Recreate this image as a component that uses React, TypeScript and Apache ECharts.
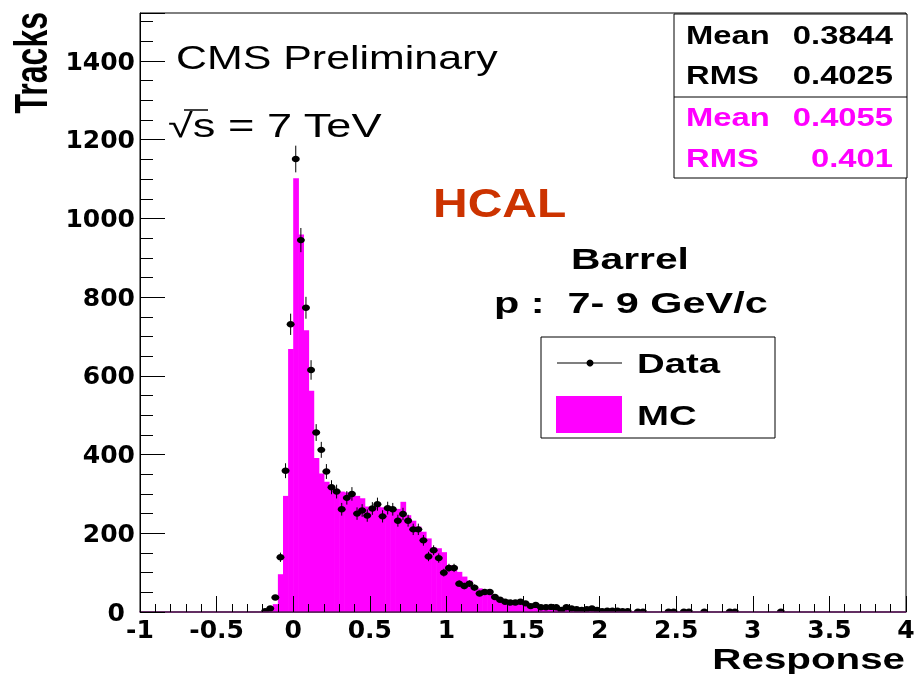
import React, { useEffect, useRef } from "react";
import * as echarts from "echarts";

// Histogram binning: 150 bins from -1 to 4
const BIN_WIDTH = 1 / 30;

// Data (points with error bars), consecutive bins starting at centre -0.1833
const DATA_FIRST_CENTER = -0.18333;
const dataCounts = [
  2, 9, 37, 139, 359, 731, 1151, 945, 773, 615, 456, 412, 357, 317, 306, 261, 290, 300,
  250, 258, 245, 263, 274, 243, 264, 261, 232, 249, 232, 210, 210, 182, 141, 157, 137,
  100, 112, 112, 72, 66, 72, 62, 47, 51, 51, 38, 31, 26, 24, 24, 26, 22, 15, 18, 12, 12,
  13, 12, 5, 12, 9, 7, 5, 7, 9, 5, 2, 3, 3, 3, 2, 2,
];
// Isolated tail points
const tailCenters = [2.25, 2.2833, 2.45, 2.4833, 2.55, 2.5833, 2.6833, 2.85, 2.8833, 3.1833];
const tailCounts = [1, 1, 1, 1, 1, 1, 1, 1, 1, 1];

// MC histogram, consecutive bins starting at low edge -0.1333
const MC_FIRST_LOW = -0.13333;
const mcCounts = [
  20, 96, 295, 668, 1102, 959, 716, 562, 391, 352, 331, 318, 310, 306, 304, 301, 295, 289,
  268, 266, 268, 266, 263, 260, 262, 280, 246, 232, 217, 204, 187, 164, 162, 152, 119, 117,
  102, 90, 80, 66, 60, 52, 47, 42, 36, 30, 25, 22, 20, 17, 13, 12, 10, 9, 8, 8, 7, 6, 5, 5,
  4, 4, 3, 3, 3, 2, 2, 2, 2, 1, 1, 1, 1,
];

const statsLabels = ["Mean", "RMS", "Mean", "RMS"];
const statsValues = ["0.3844", "0.4025", "0.4055", "0.401"];
const legendLabels = ["Data", "MC"];

const MAGENTA = "#ff00ff";
const FONT = '"Liberation Sans", Arial, sans-serif';

function txt(
  text: string,
  x: number,
  y: number,
  size: number,
  opts: { bold?: boolean; fill?: string; align?: string; scaleX?: number; scaleY?: number; rotation?: number } = {}
) {
  const align = opts.align || "left";
  return {
    type: "text",
    x,
    y,
    scaleX: opts.scaleX ?? 1,
    scaleY: opts.scaleY ?? 1,
    rotation: opts.rotation ?? 0,
    z: 100,
    style: {
      text,
      font: `${opts.bold ? "bold " : ""}${size}px ${FONT}`,
      fill: opts.fill || "#000",
      align,
      verticalAlign: "middle",
      textAlign: align,
      textVerticalAlign: "middle",
    },
  };
}

export default function App() {
  const ref = useRef<HTMLDivElement>(null);
  useEffect(() => {
    if (!ref.current) return;
    const chart = echarts.init(ref.current, null, { renderer: "svg" });

    const dataPoints: number[][] = [];
    dataCounts.forEach((v, i) => {
      if (v > 0) dataPoints.push([DATA_FIRST_CENTER + i * BIN_WIDTH, v, Math.sqrt(v)]);
    });
    tailCenters.forEach((c, i) => dataPoints.push([c, tailCounts[i], Math.sqrt(tailCounts[i])]));

    const mcBars = mcCounts.map((v, i) => {
      const lo = MC_FIRST_LOW + i * BIN_WIDTH;
      return [lo, lo + BIN_WIDTH, v];
    });

    const statsY = [35, 75, 117, 158];
    const statsGraphics: any[] = [
      { type: "rect", shape: { x: 674, y: 14, width: 233, height: 164 }, style: { fill: "#fff", stroke: "#000", lineWidth: 1 }, z: 90 },
      { type: "line", shape: { x1: 674, y1: 97, x2: 907, y2: 97 }, style: { stroke: "#000", lineWidth: 1 }, z: 91 },
    ];
    statsLabels.forEach((l, i) => {
      const fill = i < 2 ? "#000" : MAGENTA;
      statsGraphics.push(txt(l, 686, statsY[i], 26, { bold: true, fill, scaleX: 1.26 }));
      statsGraphics.push(txt(statsValues[i], 893, statsY[i], 26, { bold: true, fill, align: "right", scaleX: 1.26 }));
    });

    const legendGraphics: any[] = [
      { type: "rect", shape: { x: 541, y: 337, width: 234, height: 101 }, style: { fill: "#fff", stroke: "#000", lineWidth: 1 }, z: 90 },
      { type: "line", shape: { x1: 557, y1: 363, x2: 622, y2: 363 }, style: { stroke: "#000", lineWidth: 1.2 }, z: 91 },
      { type: "circle", shape: { cx: 590, cy: 363, r: 3.5 }, style: { fill: "#000" }, z: 92 },
      { type: "rect", shape: { x: 556, y: 396, width: 66, height: 37 }, style: { fill: MAGENTA }, z: 91 },
      txt(legendLabels[0], 637, 363, 28, { bold: true, scaleX: 1.37 }),
      txt(legendLabels[1], 637, 415, 28, { bold: true, scaleX: 1.37 }),
    ];

    const labelFont = { fontFamily: "DejaVu Sans", fontWeight: "bold", fontSize: 25, color: "#000" };

    const option: any = {
      animation: false,
      grid: { left: 140, right: 12, top: 13, bottom: 62, show: true, borderColor: "#000", borderWidth: 1, containLabel: false },
      xAxis: {
        type: "value",
        min: -1,
        max: 4,
        interval: 0.5,
        z: 10,
        axisLine: { show: true, onZero: false, lineStyle: { color: "#5a145a", width: 1.5 } },
        axisTick: { show: true, inside: true, length: 16, lineStyle: { color: "#000", width: 1 } },
        minorTick: { show: true, splitNumber: 5, length: 8, lineStyle: { color: "#000", width: 1 } },
        splitLine: { show: false },
        axisLabel: {
          ...labelFont, margin: 8, lineHeight: 18,
          formatter: (v: number) => String(v),
        },
      },
      yAxis: {
        type: "value",
        min: 0,
        max: 1522,
        interval: 200,
        z: 10,
        axisLine: { show: true, onZero: false, lineStyle: { color: "#000", width: 1 } },
        axisTick: { show: true, inside: true, length: 25, lineStyle: { color: "#000", width: 1 } },
        minorTick: { show: true, splitNumber: 4, length: 13, lineStyle: { color: "#000", width: 1 } },
        splitLine: { show: false },
        axisLabel: {
          ...labelFont, margin: 5, lineHeight: 18,
          showMaxLabel: false,
          formatter: (v: number) => (v === 0 ? "{zero|0}" : String(v)),
          rich: { zero: { ...labelFont, lineHeight: 18, padding: [0, 10, 0, 0] } },
        },
      },
      series: [
        {
          type: "custom",
          name: "MC",
          clip: true,
          data: mcBars,
          encode: { x: [0, 1], y: 2 },
          renderItem: (params: any, api: any) => {
            const a = api.coord([api.value(0), api.value(2)]);
            const b = api.coord([api.value(1), 0]);
            return {
              type: "rect",
              shape: { x: a[0], y: a[1], width: b[0] - a[0] + 0.6, height: b[1] - a[1] },
              style: { fill: MAGENTA },
            };
          },
          z: 2,
        },
        {
          type: "custom",
          name: "Data",
          clip: true,
          data: dataPoints,
          encode: { x: 0, y: 1 },
          renderItem: (params: any, api: any) => {
            const x = api.value(0);
            const v = api.value(1);
            const e = api.value(2);
            const p = api.coord([x, v]);
            const t = api.coord([x, v + e]);
            const b = api.coord([x, Math.max(v - e, 0)]);
            return {
              type: "group",
              children: [
                { type: "line", shape: { x1: p[0], y1: t[1], x2: p[0], y2: b[1] }, style: { stroke: "#000", lineWidth: 1 } },
                { type: "ellipse", shape: { cx: p[0], cy: p[1], rx: 4, ry: 3.2 }, style: { fill: "#000" } },
              ],
            };
          },
          z: 3,
        },
      ],
      graphic: [
        ...statsGraphics,
        ...legendGraphics,
        txt("CMS Preliminary", 176, 57, 33, { scaleX: 1.3 }),
        txt("√s = 7 TeV", 168, 125, 33, { scaleX: 1.37 }),
        { type: "line", shape: { x1: 184, y1: 110, x2: 208, y2: 110 }, style: { stroke: "#000", lineWidth: 1.5 }, z: 100 },
        txt("HCAL", 433, 203, 41, { bold: true, fill: "#cc3300", scaleX: 1.17 }),
        txt("Barrel", 571, 259, 30, { bold: true, scaleX: 1.36 }),
        txt("p :  7- 9 GeV/c", 494, 303, 30, { bold: true, scaleX: 1.38 }),
        txt("Response", 905, 659, 29, { bold: true, align: "right", scaleX: 1.39 }),
        txt("Tracks", 31, 12, 32, { bold: true, align: "right", rotation: Math.PI / 2, scaleY: 1.45 }),
      ],
    };
    chart.setOption(option);
    return () => chart.dispose();
  }, []);
  return <div ref={ref} style={{ position: "fixed", left: 0, top: 0, width: 918, height: 674 }} />;
}
